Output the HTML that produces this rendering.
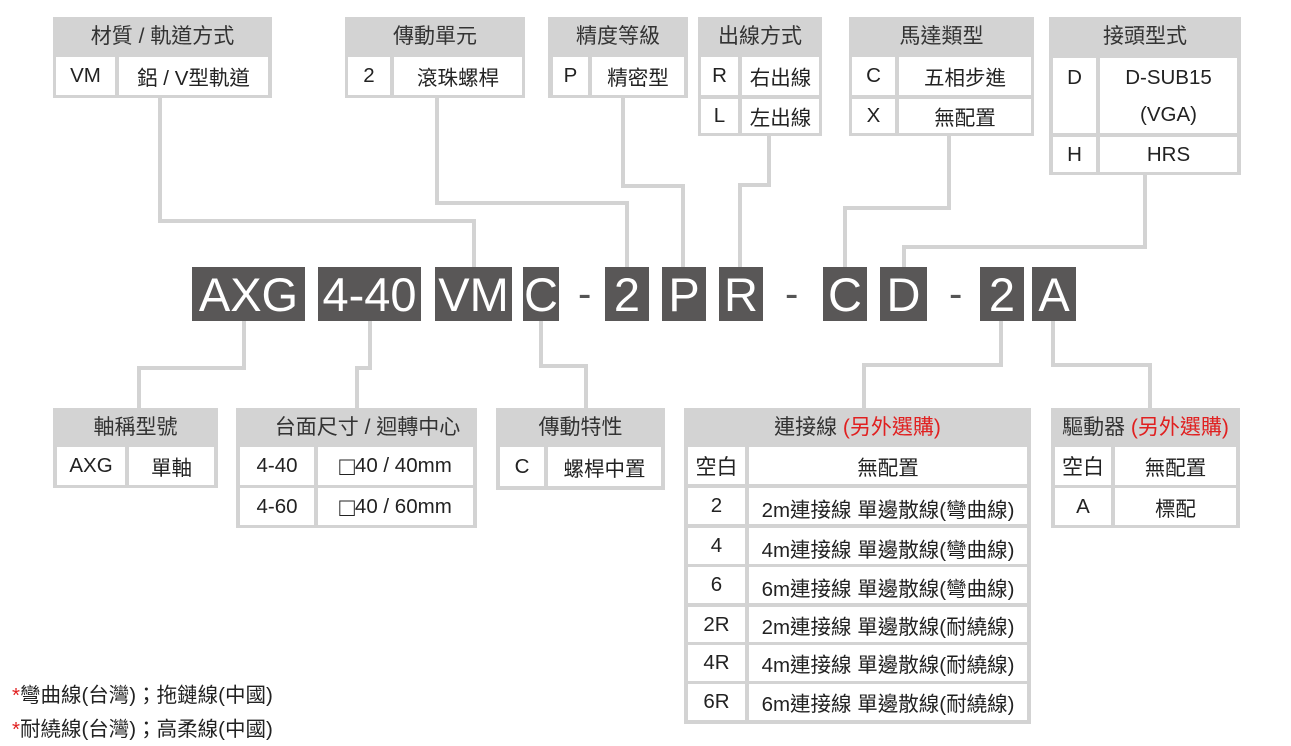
<!DOCTYPE html>
<html><head><meta charset="utf-8">
<style>
*{margin:0;padding:0;box-sizing:border-box}
body{width:1291px;height:746px;background:#fff;position:relative;overflow:hidden;font-family:"Liberation Sans","Noto Sans CJK TC",sans-serif;color:#222}
.b{position:absolute;background:#d3d3d3}
.h{position:absolute;font-size:21px;text-align:center;line-height:40px;color:#333}
.c{position:absolute;background:#fff;font-size:20.5px;text-align:center;display:flex;align-items:center;justify-content:center;color:#222;white-space:nowrap}
.k{position:absolute;background:#595757;color:#fff;font-size:47px;text-align:center;line-height:56px;top:267px;height:54px}
.d{position:absolute;top:267px;line-height:54px;font-size:40px;color:#555}
.l{position:absolute;background:#d3d3d3}
.r{color:#e02020}
.f{position:absolute;left:12px;font-size:20.5px;color:#222}
.sq{font-size:26px;line-height:20px}
</style></head><body>

<div class="l" style="left:158px;top:98px;width:4px;height:125px"></div>
<div class="l" style="left:158px;top:219px;width:318px;height:4px"></div>
<div class="l" style="left:472px;top:219px;width:4px;height:48px"></div>

<div class="l" style="left:435px;top:98px;width:4px;height:107px"></div>
<div class="l" style="left:435px;top:201px;width:194px;height:4px"></div>
<div class="l" style="left:625px;top:201px;width:4px;height:66px"></div>

<div class="l" style="left:621px;top:98px;width:4px;height:90px"></div>
<div class="l" style="left:621px;top:184px;width:64px;height:4px"></div>
<div class="l" style="left:681px;top:184px;width:4px;height:83px"></div>

<div class="l" style="left:767px;top:136px;width:4px;height:50px"></div>
<div class="l" style="left:738px;top:183px;width:33px;height:4px"></div>
<div class="l" style="left:738px;top:183px;width:4px;height:84px"></div>

<div class="l" style="left:947px;top:136px;width:4px;height:74px"></div>
<div class="l" style="left:843px;top:206px;width:108px;height:4px"></div>
<div class="l" style="left:843px;top:206px;width:4px;height:61px"></div>

<div class="l" style="left:1143px;top:175px;width:4px;height:74px"></div>
<div class="l" style="left:902px;top:245px;width:245px;height:4px"></div>
<div class="l" style="left:902px;top:245px;width:4px;height:22px"></div>

<div class="l" style="left:242px;top:321px;width:4px;height:49px"></div>
<div class="l" style="left:137px;top:366px;width:109px;height:4px"></div>
<div class="l" style="left:137px;top:366px;width:4px;height:42px"></div>

<div class="l" style="left:368px;top:321px;width:4px;height:49px"></div>
<div class="l" style="left:355px;top:366px;width:17px;height:4px"></div>
<div class="l" style="left:355px;top:366px;width:4px;height:42px"></div>

<div class="l" style="left:539px;top:321px;width:4px;height:47px"></div>
<div class="l" style="left:539px;top:364px;width:49px;height:4px"></div>
<div class="l" style="left:584px;top:364px;width:4px;height:44px"></div>

<div class="l" style="left:999px;top:321px;width:4px;height:46px"></div>
<div class="l" style="left:862px;top:363px;width:141px;height:4px"></div>
<div class="l" style="left:862px;top:363px;width:4px;height:45px"></div>

<div class="l" style="left:1051px;top:321px;width:4px;height:46px"></div>
<div class="l" style="left:1051px;top:363px;width:101px;height:4px"></div>
<div class="l" style="left:1148px;top:363px;width:4px;height:45px"></div>

<div class="b" style="left:53px;top:17px;width:219px;height:81px"></div>
<div class="h" style="left:53px;top:17px;width:219px">材質 / 軌道方式</div>
<div class="c" style="left:56px;top:57px;width:59px;height:38px">VM</div>
<div class="c" style="left:119px;top:57px;width:149px;height:38px">鋁 / V型軌道</div>

<div class="b" style="left:345px;top:17px;width:180px;height:81px"></div>
<div class="h" style="left:345px;top:17px;width:180px">傳動單元</div>
<div class="c" style="left:348px;top:57px;width:42px;height:38px">2</div>
<div class="c" style="left:394px;top:57px;width:128px;height:38px">滾珠螺桿</div>

<div class="b" style="left:548px;top:17px;width:140px;height:81px"></div>
<div class="h" style="left:548px;top:17px;width:140px">精度等級</div>
<div class="c" style="left:553px;top:57px;width:35px;height:38px">P</div>
<div class="c" style="left:592px;top:57px;width:92px;height:38px">精密型</div>

<div class="b" style="left:698px;top:17px;width:124px;height:119px"></div>
<div class="h" style="left:698px;top:17px;width:124px">出線方式</div>
<div class="c" style="left:701px;top:57px;width:37px;height:38px">R</div>
<div class="c" style="left:742px;top:57px;width:77px;height:38px">右出線</div>
<div class="c" style="left:701px;top:99px;width:37px;height:34px">L</div>
<div class="c" style="left:742px;top:99px;width:77px;height:34px">左出線</div>

<div class="b" style="left:849px;top:17px;width:185px;height:119px"></div>
<div class="h" style="left:849px;top:17px;width:185px">馬達類型</div>
<div class="c" style="left:852px;top:57px;width:43px;height:38px">C</div>
<div class="c" style="left:899px;top:57px;width:132px;height:38px">五相步進</div>
<div class="c" style="left:852px;top:99px;width:43px;height:34px">X</div>
<div class="c" style="left:899px;top:99px;width:132px;height:34px">無配置</div>

<div class="b" style="left:1049px;top:17px;width:192px;height:158px"></div>
<div class="h" style="left:1049px;top:17px;width:192px">接頭型式</div>
<div class="c" style="left:1053px;top:58px;width:43px;height:75px;align-items:flex-start;padding-top:8px">D</div>
<div class="c" style="left:1100px;top:58px;width:137px;height:75px;line-height:37px;flex-direction:column">D-SUB15<br>(VGA)</div>
<div class="c" style="left:1053px;top:137px;width:43px;height:35px">H</div>
<div class="c" style="left:1100px;top:137px;width:137px;height:35px">HRS</div>

<div class="k" style="left:192px;width:113px">AXG</div>
<div class="k" style="left:318px;width:103px">4-40</div>
<div class="k" style="left:435px;width:77px">VM</div>
<div class="k" style="left:523px;width:36px">C</div>
<div class="d" style="left:578px">-</div>
<div class="k" style="left:605px;width:44px">2</div>
<div class="k" style="left:662px;width:44px">P</div>
<div class="k" style="left:719px;width:44px">R</div>
<div class="d" style="left:785px">-</div>
<div class="k" style="left:823px;width:44px">C</div>
<div class="k" style="left:880px;width:47px">D</div>
<div class="d" style="left:949px">-</div>
<div class="k" style="left:980px;width:44px">2</div>
<div class="k" style="left:1032px;width:44px">A</div>

<div class="b" style="left:53px;top:408px;width:165px;height:80px"></div>
<div class="h" style="left:53px;top:408px;width:165px">軸稱型號</div>
<div class="c" style="left:57px;top:447px;width:68px;height:38px">AXG</div>
<div class="c" style="left:129px;top:447px;width:85px;height:38px">單軸</div>

<div class="b" style="left:236px;top:408px;width:241px;height:120px"></div>
<div class="h" style="left:236px;top:408px;width:241px;padding-left:22px">台面尺寸 / 迴轉中心</div>
<div class="c" style="left:240px;top:447px;width:74px;height:38px">4-40</div>
<div class="c" style="left:318px;top:447px;width:155px;height:38px"><span class="sq">□</span>40 / 40mm</div>
<div class="c" style="left:240px;top:488px;width:74px;height:37px">4-60</div>
<div class="c" style="left:318px;top:488px;width:155px;height:37px"><span class="sq">□</span>40 / 60mm</div>

<div class="b" style="left:496px;top:408px;width:169px;height:82px"></div>
<div class="h" style="left:496px;top:408px;width:169px">傳動特性</div>
<div class="c" style="left:500px;top:447px;width:44px;height:39px">C</div>
<div class="c" style="left:548px;top:447px;width:113px;height:39px">螺桿中置</div>

<div class="b" style="left:684px;top:408px;width:347px;height:316px"></div>
<div class="h" style="left:684px;top:408px;width:347px">連接線 <span class="r">(另外選購)</span></div>
<div class="c" style="left:688px;top:447px;width:57px;height:37px;font-size:21px">空白</div>
<div class="c" style="left:749px;top:447px;width:278px;height:37px">無配置</div>
<div class="c" style="left:688px;top:488px;width:57px;height:36px;align-items:flex-start;padding-top:6px">2</div>
<div class="c" style="left:749px;top:488px;width:278px;height:36px;align-items:flex-end;padding-bottom:1px">2m連接線 單邊散線(彎曲線)</div>
<div class="c" style="left:688px;top:528px;width:57px;height:36px;align-items:flex-start;padding-top:6px">4</div>
<div class="c" style="left:749px;top:528px;width:278px;height:36px;align-items:flex-end;padding-bottom:1px">4m連接線 單邊散線(彎曲線)</div>
<div class="c" style="left:688px;top:567px;width:57px;height:36px;align-items:flex-start;padding-top:6px">6</div>
<div class="c" style="left:749px;top:567px;width:278px;height:36px;align-items:flex-end;padding-bottom:1px">6m連接線 單邊散線(彎曲線)</div>
<div class="c" style="left:688px;top:607px;width:57px;height:35px">2R</div>
<div class="c" style="left:749px;top:607px;width:278px;height:35px">2m連接線 單邊散線(耐繞線)</div>
<div class="c" style="left:688px;top:645px;width:57px;height:36px">4R</div>
<div class="c" style="left:749px;top:645px;width:278px;height:36px">4m連接線 單邊散線(耐繞線)</div>
<div class="c" style="left:688px;top:684px;width:57px;height:36px">6R</div>
<div class="c" style="left:749px;top:684px;width:278px;height:36px">6m連接線 單邊散線(耐繞線)</div>

<div class="b" style="left:1051px;top:408px;width:189px;height:120px"></div>
<div class="h" style="left:1051px;top:408px;width:189px">驅動器 <span class="r">(另外選購)</span></div>
<div class="c" style="left:1055px;top:447px;width:56px;height:38px;font-size:21px">空白</div>
<div class="c" style="left:1115px;top:447px;width:121px;height:38px">無配置</div>
<div class="c" style="left:1055px;top:488px;width:56px;height:37px">A</div>
<div class="c" style="left:1115px;top:488px;width:121px;height:37px">標配</div>

<div class="f" style="top:678px"><span class="r">*</span>彎曲線(台灣)；拖鏈線(中國)</div>
<div class="f" style="top:712px"><span class="r">*</span>耐繞線(台灣)；高柔線(中國)</div>
</body></html>
